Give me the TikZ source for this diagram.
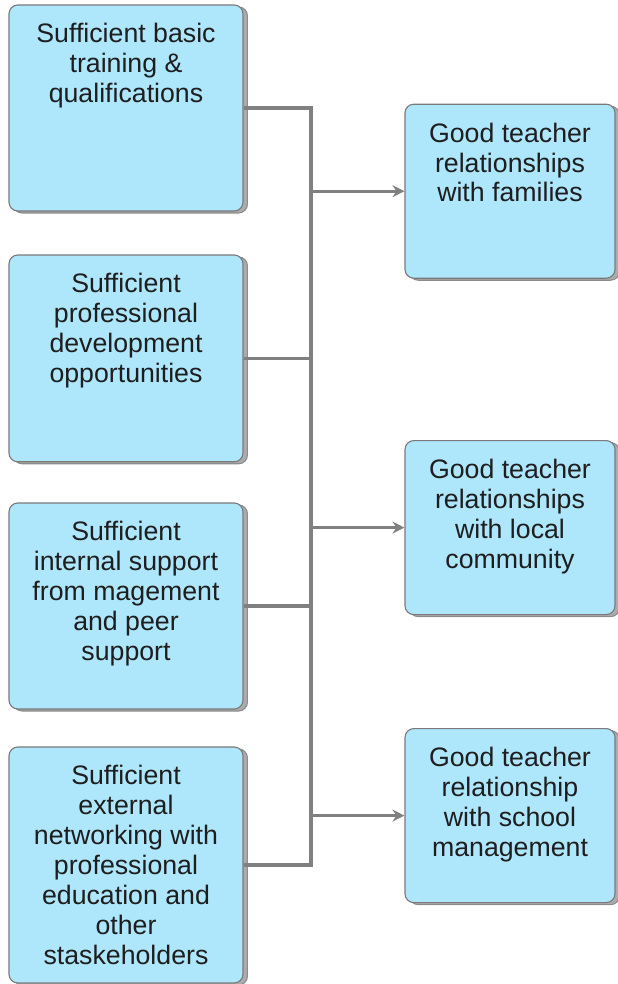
\documentclass[tikz,border=0pt]{standalone}
\usepackage{fontspec}
\setmainfont{Liberation Sans}
\usetikzlibrary{shadows,arrows.meta}
\definecolor{boxfill}{HTML}{AEE6FC}
\definecolor{boxline}{HTML}{7A7A7A}
\definecolor{linkgrey}{HTML}{808080}
\definecolor{inkgrey}{HTML}{1E1E1E}

\begin{document}
\begin{tikzpicture}[
    cause/.style={draw=boxline, fill=boxfill, rounded corners=0.22cm, line width=0.8pt,
      minimum width=5.85cm, inner sep=0pt,
      general shadow={shadow xshift=0.11cm, shadow yshift=-0.05cm, fill=gray!65, draw=gray!90}},
    effect/.style={cause, minimum width=5.25cm, minimum height=4.35cm},
    caption/.style={anchor=north, align=center, inner sep=0pt, text=inkgrey,
      font=\fontsize{19}{21.3}\selectfont, yshift=-0.47cm},
    link/.style={draw=linkgrey, line width=2.2pt},
    tip/.style={-{Stealth[length=0.3cm, width=0.3cm, inset=0.1cm]}}
  ]
  \useasboundingbox (0,0) rectangle (15.45,-24.6);

  % ── Causes (left column) ──
  \node[cause, minimum height=5.15cm] (c1) at (3.15,-2.7) {};
  \node[caption] (t1) at (c1.north) {Sufficient basic\\training \&\\qualifications};

  \node[cause, minimum height=5.17cm] (c2) at (3.15,-8.96) {};
  \node[caption] (t2) at (c2.north) {Sufficient\\professional\\development\\opportunities};

  \node[cause, minimum height=5.15cm] (c3) at (3.15,-15.15) {};
  \node[caption] (t3) at (c3.north) {Sufficient\\internal support\\from magement\\and peer\\support};

  \node[cause, minimum height=5.9cm] (c4) at (3.15,-21.625) {};
  \node[caption] (t4) at (c4.north) {Sufficient\\external\\networking with\\professional\\education and\\other\\staskeholders};

  % ── Effects (right column) ──
  \node[effect] (e1) at (12.75,-4.78) {};
  \node[caption] (u1) at (e1.north) {Good teacher\\relationships\\with families};

  \node[effect] (e2) at (12.75,-13.19) {};
  \node[caption] (u2) at (e2.north) {Good teacher\\relationships\\with local\\community};

  \node[effect] (e3) at (12.75,-20.39) {};
  \node[caption] (u3) at (e3.north) {Good teacher\\relationship\\with school\\management};

  % ── Collecting bus and arrows ──
  \coordinate (bus) at (7.775,0);
  \draw[link] (c1.east) -- (c1.east -| bus) -- (c4.east -| bus) -- (c4.east);
  \draw[link] (c2.east) -- (c2.east -| bus);
  \draw[link] (c3.east) -- (c3.east -| bus);
  \foreach \e in {e1,e2,e3}
    \draw[link, tip] (\e.west -| bus) -- (\e.west);

\end{tikzpicture}
\end{document}
